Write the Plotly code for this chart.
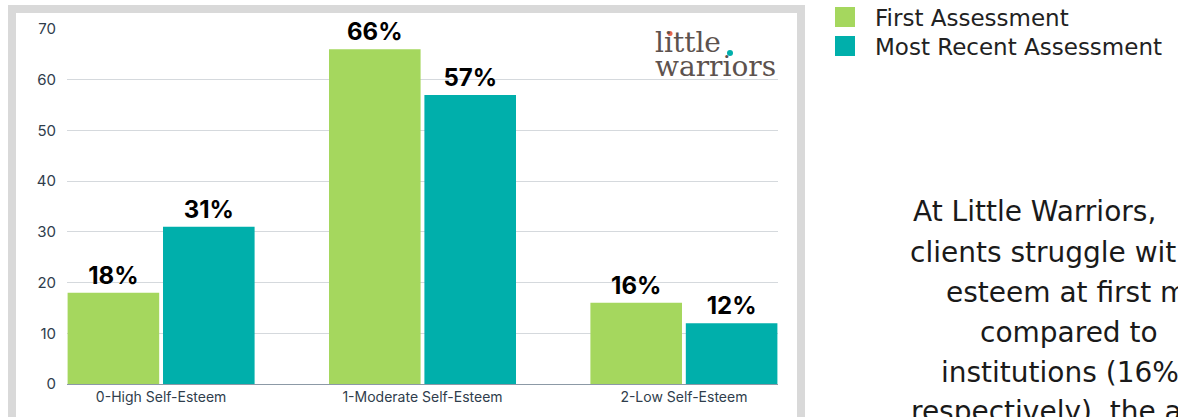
import plotly.graph_objects as go

categories = ["0-High Self-Esteem", "1-Moderate Self-Esteem", "2-Low Self-Esteem"]
first_assessment = [18, 66, 16]
recent_assessment = [31, 57, 12]
series_names = ["First Assessment", "Most Recent Assessment"]
y_ticks = [0, 10, 20, 30, 40, 50, 60, 70]
side_text_lines = [
    "At Little Warriors,",
    "clients struggle wit",
    "esteem at first m",
    "compared to",
    "institutions (16%",
    "respectively), the a",
]

GREEN = "#A5D75E"
TEAL = "#00AFAB"
W, H = 1178, 417
FONT = "Inter"
WIDE = "DejaVu Sans"

def px(x):
    return x / W

def py(y):
    return 1 - y / H

fig = go.Figure()
for name, vals, col in [(series_names[0], first_assessment, GREEN),
                        (series_names[1], recent_assessment, TEAL)]:
    fig.add_trace(go.Bar(
        x=categories, y=vals, name=name, marker=dict(color=col, line=dict(width=0)),
        texttemplate="%{y}%", textposition="outside",
        textfont=dict(family=FONT, size=24, color="#000000", weight="bold"),
        cliponaxis=False, showlegend=False,
    ))

fig.update_layout(
    width=W, height=H,
    margin=dict(l=0, r=0, t=0, b=0, autoexpand=False),
    showlegend=False,
    paper_bgcolor="white", plot_bgcolor="white",
    barmode="group", bargap=0.27, bargroupgap=0.04,
    xaxis=dict(domain=[px(67), px(778)], range=[-0.36, 2.36], automargin=False,
               showline=True, linecolor="#8c99a6", linewidth=1,
               ticks="", tickfont=dict(family=FONT, size=14, color="#2f3d4c"),
               showgrid=False, zeroline=False),
    yaxis=dict(domain=[py(384), py(29)], range=[0, 70], automargin=False,
               tickvals=y_ticks, ticks="", ticklabelstandoff=10,
               tickfont=dict(family=FONT, size=15, color="#2f3d4c"),
               showgrid=True, gridcolor="#d5d9dd", gridwidth=1,
               zeroline=False, showline=False),
)

shapes = []
# grey frame around the chart
shapes.append(dict(type="rect", xref="paper", yref="paper",
                   x0=px(12), x1=px(801), y0=py(430), y1=py(9),
                   line=dict(color="#d9d9d9", width=8), fillcolor="rgba(0,0,0,0)",
                   layer="below"))
# legend swatches
shapes.append(dict(type="rect", xref="paper", yref="paper",
                   x0=px(835), x1=px(855), y0=py(27), y1=py(7),
                   line=dict(width=0), fillcolor=GREEN))
shapes.append(dict(type="rect", xref="paper", yref="paper",
                   x0=px(835), x1=px(855), y0=py(56), y1=py(36),
                   line=dict(width=0), fillcolor=TEAL))
# coloured dots of the logo
shapes.append(dict(type="circle", xref="paper", yref="paper",
                   x0=px(667.5), x1=px(672.5), y0=py(36), y1=py(31),
                   line=dict(width=0), fillcolor="#E8654F"))
shapes.append(dict(type="circle", xref="paper", yref="paper",
                   x0=px(727), x1=px(733), y0=py(56), y1=py(50),
                   line=dict(width=0), fillcolor=TEAL))
fig.update_layout(shapes=shapes)

ann = []
ann.append(dict(text=series_names[0], x=px(873), y=py(18), xref="paper", yref="paper",
                xanchor="left", yanchor="middle", showarrow=False,
                font=dict(family=WIDE, size=23, color="#222222")))
ann.append(dict(text=series_names[1], x=px(873), y=py(47), xref="paper", yref="paper",
                xanchor="left", yanchor="middle", showarrow=False,
                font=dict(family=WIDE, size=23, color="#222222")))
# logo
ann.append(dict(text="little", x=px(653), y=py(42), xref="paper", yref="paper",
                xanchor="left", yanchor="middle", showarrow=False,
                font=dict(family="DejaVu Serif", size=28, color="#5d524e")))
ann.append(dict(text="warriors", x=px(653), y=py(66), xref="paper", yref="paper",
                xanchor="left", yanchor="middle", showarrow=False,
                font=dict(family="DejaVu Serif", size=28, color="#5d524e")))
# side paragraph (cut off by the picture edge)
line_x = [911, 908, 944, 978, 939, 909]
line_y = [212, 252, 292, 332, 372, 411]
for t, lx, ly in zip(side_text_lines, line_x, line_y):
    ann.append(dict(text=t, x=px(lx), y=py(ly), xref="paper", yref="paper",
                    xanchor="left", yanchor="middle", showarrow=False,
                    font=dict(family=WIDE, size=28, color="#1a1a1a")))
fig.update_layout(annotations=ann)

fig.write_html("out.html", config={"displayModeBar": False},
               post_script="document.body.style.margin='0';document.body.style.overflow='hidden';")
